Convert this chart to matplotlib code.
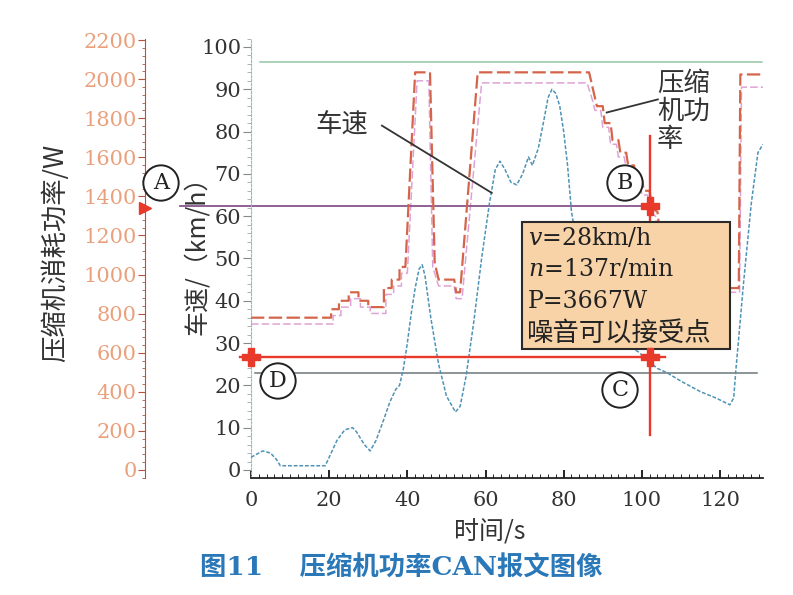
import matplotlib.pyplot as plt
from matplotlib.ticker import MultipleLocator
from matplotlib.patches import Rectangle

plt.rcParams['font.family'] = ['DejaVu Serif', 'Noto Sans CJK SC']
plt.rcParams['mathtext.fontset'] = 'dejavuserif'

W, H = 793, 595


def fx(x):
    return x / W


def fy(y):
    return 1 - y / H


# vehicle speed (km/h)
time_s = [0, 1, 3, 5, 6.5, 7.5, 19, 20, 22, 24, 26, 27, 29, 30.5, 32, 34, 35.5, 37,
          38, 39, 40, 41, 42, 43, 43.8, 44.5, 46, 48, 50, 52.3, 53.5, 55, 57, 59,
          61, 62.5, 63.7, 65, 66.5, 68, 69.5, 71, 72, 73.5, 75, 76, 77, 78, 79, 80,
          81, 82, 85, 90, 95, 99, 102, 104, 106.4, 110, 115, 119, 122.5, 123.5,
          124, 126, 128, 129.7, 131]
speed_kmh = [3, 3.5, 4.5, 4, 2.5, 1, 1, 3, 7, 9.5, 10, 9, 6, 4.5, 7, 12, 16, 19,
             20, 24, 30, 37, 43, 47.5, 48.5, 46, 36, 25, 17.5, 13.7, 15, 22, 35, 50,
             63, 71, 73, 71, 68, 67.4, 70, 74, 72, 76, 83, 88, 90, 89, 86, 80,
             72, 61, 45, 35, 30, 28, 25.5, 24, 23, 21, 18.5, 17, 15.4, 17,
             23, 44, 63, 75, 77]

# compressor power trace (drawn on the speed scale)
comp_t = [0, 20.5, 20.5, 22.5, 22.5, 25, 25, 27.5, 27.5, 30, 30, 34, 34, 36, 36, 38,
          38, 39.5, 42, 45.8, 47, 48, 52, 52.5, 53.5, 58, 86.5, 88, 88.5, 90, 90.5,
          92, 92.5, 94, 94.5, 96, 96.5, 98, 98.5, 100, 100.5, 102, 102.5, 104,
          106, 123, 124.8, 125.2, 131]
comp_v = [36, 36, 38, 38, 40, 40, 42, 42, 40, 40, 38.5, 38.5, 43, 43, 45, 45,
          48, 48, 94, 94, 49, 45, 45, 42, 42, 94, 94, 88, 86, 86, 82, 82, 78,
          78, 75, 75, 72, 72, 69, 69, 66, 66, 62, 61, 45, 43, 43, 93.5, 93.5]
pink_t = [0, 21, 21, 23, 23, 25.5, 25.5, 28, 28, 30.5, 30.5, 34.5, 34.5, 36.5, 36.5,
          38.5, 38.5, 40, 42.5, 45.5, 46.5, 48, 52, 52.5, 54, 59, 86, 87.5, 88, 89.5,
          90, 91.5, 92, 93.5, 94, 95.5, 96, 97.5, 98, 99.5, 100, 101.5, 102, 103.5,
          106, 123, 125, 125.5, 131]
pink_v = [34.5, 34.5, 36.5, 36.5, 38.5, 38.5, 40.5, 40.5, 38.5, 38.5, 37, 37, 41.5,
          41.5, 43.5, 43.5, 46.5, 46.5, 92, 92, 48, 43.5, 43.5, 40.5, 40.5, 91.5,
          91.5, 87, 85, 85, 81, 81, 77, 77, 74, 74, 71, 71, 68, 68, 65, 65, 61,
          60, 44, 42, 42, 90.5, 90.5]

time_ticks = [0, 20, 40, 60, 80, 100, 120]
speed_ticks = [0, 10, 20, 30, 40, 50, 60, 70, 80, 90, 100]
power_ticks = [0, 200, 400, 600, 800, 1000, 1200, 1400, 1600, 1800, 2000, 2200]

line_top = 96.5     # green reference
line_ab = 62.5      # A-B level
line_red = 26.7     # v = 28 km/h level
line_dc = 23        # D-C level
t_mark = 102        # time of accepted noise point
power_mark = 1340

fig = plt.figure(figsize=(7.93, 5.95), dpi=100)
ax = fig.add_axes([fx(251), fy(478), fx(763) - fx(251), fy(38.5) - fy(478)])
ax.set_xlim(0, 131)
ax.set_ylim(-1.9, 102)

ax.spines['top'].set_visible(False)
ax.spines['right'].set_visible(False)
ax.spines['left'].set_color('#86bcd8')
ax.spines['left'].set_linestyle((0, (2, 1.5)))
ax.spines['bottom'].set_color('#222222')
ax.spines['bottom'].set_linewidth(1.3)

ax.set_xticks(time_ticks)
ax.xaxis.set_minor_locator(MultipleLocator(2))
ax.set_yticks(speed_ticks)
ax.yaxis.set_minor_locator(MultipleLocator(2))
ax.tick_params(axis='x', which='major', direction='in', length=6, width=1.2,
               labelsize=15, labelcolor='#333333', pad=9)
ax.tick_params(axis='x', which='minor', direction='in', length=3)
ax.tick_params(axis='y', which='major', direction='out', length=6, color='#888888',
               labelsize=15, labelcolor='#333333', pad=1)
ax.tick_params(axis='y', which='minor', direction='out', length=3, color='#9aa')

# power axis on the far left
axp = fig.add_axes([fx(145), fy(478), 0.0001, fy(38.5) - fy(478)])
axp.set_ylim(-41, 2208)
axp.patch.set_visible(False)
for s in ['top', 'right', 'bottom']:
    axp.spines[s].set_visible(False)
axp.spines['left'].set_color('#b5533f')
axp.set_xticks([])
axp.set_yticks(power_ticks)
axp.yaxis.set_minor_locator(MultipleLocator(40))
axp.tick_params(axis='y', which='major', length=5, color='#b5533f',
                labelsize=15, labelcolor='#eaa07c', pad=1)
axp.tick_params(axis='y', which='minor', length=2.5, color='#b5533f')
axp.plot([0], [power_mark], marker='>', ms=9, color='#e8392a', clip_on=False)

# traces
ax.plot(time_s, speed_kmh, color='#4f93b4', lw=1.1, ls=(0, (2.5, 1.2)), zorder=3)
ax.plot(pink_t, pink_v, color='#dea3d6', lw=1.1, ls=(0, (5, 2)), zorder=2)
ax.plot(comp_t, comp_v, color='#d5654a', lw=1.6, ls=(0, (6, 2)), zorder=3)

# reference lines
ax.plot([2.3, 130.7], [line_top, line_top], color='#93c6a2', lw=1.1, zorder=2)
ax.plot([-18.2, t_mark], [line_ab, line_ab], color='#86558a', lw=1.3,
        clip_on=False, zorder=2)
ax.plot([1, 129.4], [line_dc, line_dc], color='#6e767a', lw=1.1, zorder=2)
ax.plot([-2.8, 106], [line_red, line_red], color='#e8392a', lw=1.7,
        clip_on=False, zorder=4)
ax.plot([t_mark, t_mark], [79, 8.3], color='#e8392a', lw=1.7, zorder=4)
ax.plot([0, t_mark, t_mark], [line_red, line_red, line_ab], ls='none', marker='P',
        ms=13, color='#e8392a', clip_on=False, zorder=7)

# annotation box
ax.add_patch(Rectangle((69.3, 28.6), 53.2, 30, facecolor='#f8d3a8',
                       edgecolor='#2a2a2a', lw=1.5, zorder=5))
box_lines = ['$v$=28km/h', '$n$=137r/min', 'P=3667W']
for txt, y in zip(box_lines, [238, 269, 301]):
    fig.text(fx(528), fy(y), txt, fontsize=17, color='#222222', va='center',
             ha='left', zorder=8)
fig.text(fx(526), fy(333), '噪音可以接受点', fontsize=19, color='#222222',
         family='Noto Sans CJK SC', va='center', ha='left', zorder=8)

# leaders and labels
ax.plot([33.5, 61.6], [81.4, 65.5], color='#333333', lw=1.3, zorder=4)
fig.text(fx(342), fy(125), '车速', fontsize=19, family='Noto Sans CJK SC',
         color='#333333', ha='center', va='center')
ax.plot([104.1, 91.0], [87.6, 84.5], color='#333333', lw=1.3, zorder=4, clip_on=False)
fig.text(fx(657), fy(70), '压缩\n机功\n率', fontsize=19, family='Noto Sans CJK SC',
         color='#333333', ha='left', va='top', linespacing=1.05)

circ = dict(boxstyle='circle,pad=0.3', fc='white', ec='#222222', lw=1.4)
for letter, (x, y) in zip('ABCD', [(161, 183), (625, 183), (620, 390), (278, 381)]):
    fig.text(fx(x), fy(y), letter, fontsize=16, ha='center', va='center',
             color='#222222', bbox=circ, zorder=9)

fig.text(fx(55), fy(253), '压缩机消耗功率/W', rotation=90, fontsize=19,
         family='Noto Sans CJK SC', color='#333333', ha='center', va='center')
fig.text(fx(197), fy(249), '车速/（km/h）', rotation=90, fontsize=18,
         family='Noto Sans CJK SC', color='#333333', ha='center', va='center')
fig.text(fx(490), fy(533), '时间/s', fontsize=18, family='Noto Sans CJK SC',
         color='#333333', ha='center', va='center')
fig.text(fx(401), fy(568), '图11    压缩机功率CAN报文图像', fontsize=19,
         fontweight='bold', color='#2a78b8', ha='center', va='center')

fig.savefig('out.png', dpi=100)
